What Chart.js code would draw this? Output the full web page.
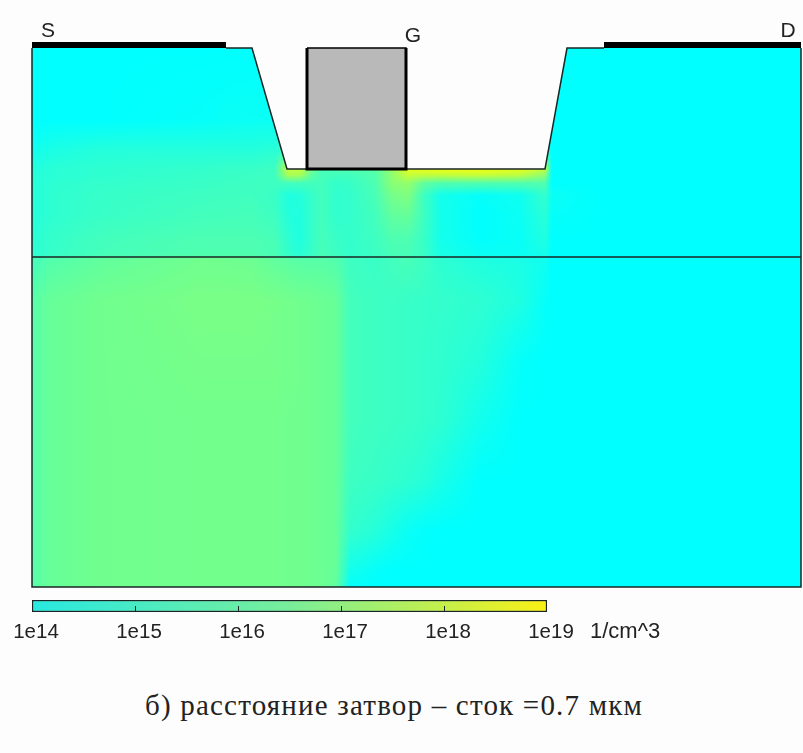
<!DOCTYPE html>
<html>
<head>
<meta charset="utf-8">
<script src="https://cdn.jsdelivr.net/npm/chart.js@4"></script>
<style>
  html, body { margin: 0; padding: 0; background: #fdfdfd; overflow: hidden; }
  canvas { position: absolute; left: 0; }
  #deviceChart { top: 0; }
  #scaleChart { top: 590px; }
  .note { position: absolute; white-space: nowrap; color: #222; }
  #unit { left: 590px; top: 618px; font: 22px "Liberation Sans", sans-serif; }
  #caption { left: 145px; top: 689px; font: 29px "Liberation Serif", serif; letter-spacing: 1.2px; }
</style>
</head>
<body>
<canvas id="deviceChart" width="803" height="590"></canvas>
<canvas id="scaleChart" width="803" height="60"></canvas>
<div class="note" id="unit">1/cm^3</div>
<div class="note" id="caption">б) расстояние затвор – сток =0.7 мкм</div>

<script>
// device coordinates, arbitrary units
const gridX = [0, 18, 68, 168, 218, 243, 256, 268, 280, 290, 304, 318, 343, 360, 376, 392, 408, 448, 488, 513, 520, 568, 769];
const gridY = [0, 72, 102, 121, 127, 135, 147, 167, 192, 207, 211, 252, 312, 372, 432, 482, 522, 539];

// log10 of the concentration, one row per gridY
const density = [
  [14, 14, 14, 14, 14, 14, 14, 14, 14, 14, 14, 14, 14, 14, 14, 14, 14, 14, 14, 14, 14, 14, 14],
  [14, 14, 14, 14.1, 14.2, 14.2, 14, 14, 14, 14, 14, 14, 14, 14, 14, 14, 14, 14, 14, 14, 14, 14, 14],
  [14.3, 14.5, 14.7, 14.7, 14.7, 14.8, 15, 15, 15, 15, 15, 15, 15, 15, 15, 15, 15, 15, 15, 15, 14, 14, 14],
  [14.6, 14.8, 14.9, 15, 15.1, 15.2, 17.8, 17.8, 16.2, 15.4, 15.5, 15.6, 15.7, 17, 18.4, 18.6, 18.7, 18.7, 18.5, 17.8, 14, 14, 14],
  [14.7, 14.8, 14.9, 15.05, 15.15, 15.2, 17.3, 17.3, 15.8, 15.35, 15.3, 15.3, 15.6, 16.8, 17.9, 17.8, 17.8, 17.9, 17.7, 16.8, 14, 14, 14],
  [14.7, 14.85, 15, 15.1, 15.2, 15.2, 15.3, 15.3, 15.3, 15.3, 15, 15.1, 15.5, 16.7, 16.9, 15.9, 15.6, 15.6, 15.6, 15.6, 14, 14, 14],
  [14.7, 14.9, 15.05, 15.2, 15.25, 15.1, 14.6, 14.7, 15.05, 15.3, 14.95, 15, 15.4, 16.3, 16.5, 15.2, 14.4, 14.1, 14.3, 15, 14.2, 14, 14],
  [14.7, 14.9, 15.1, 15.3, 15.35, 15.2, 14.7, 14.6, 15.05, 15.3, 14.95, 15, 15.3, 15.9, 16, 15.2, 14.4, 14, 14.2, 14.8, 14.1, 14, 14],
  [14.8, 15, 15.3, 15.5, 15.5, 15.4, 14.9, 14.6, 15.05, 15.35, 15.1, 15, 15.2, 15.5, 15.5, 15.1, 14.4, 14.05, 14.15, 14.6, 14, 14, 14],
  [14.85, 15.05, 15.35, 15.55, 15.55, 15.45, 15, 14.8, 15.1, 15.4, 15.2, 15, 15.15, 15.4, 15.4, 15.1, 14.5, 14.2, 14.2, 14.4, 14, 14, 14],
  [15.3, 15.6, 15.9, 16.2, 16.15, 15.9, 15.8, 15.7, 15.7, 15.7, 15.6, 15.2, 15.1, 15.3, 15.4, 15.2, 14.9, 14.6, 14.5, 14.3, 14, 14, 14],
  [15.7, 16, 16.2, 16.35, 16.35, 16.3, 16.25, 16.2, 16.15, 16.1, 16, 15.3, 15.2, 15.15, 15.1, 15.05, 15, 14.9, 14.6, 14.1, 14, 14, 14],
  [15.7, 16, 16.2, 16.3, 16.3, 16.3, 16.25, 16.2, 16.15, 16.1, 16, 15.3, 15.2, 15.15, 15.1, 15, 14.95, 14.7, 14.1, 14, 14, 14, 14],
  [15.7, 16, 16.2, 16.25, 16.25, 16.25, 16.2, 16.2, 16.15, 16.1, 16, 15.3, 15.2, 15.15, 15.1, 15, 14.9, 14.35, 14, 14, 14, 14, 14],
  [15.7, 16, 16.2, 16.25, 16.25, 16.25, 16.2, 16.2, 16.15, 16.1, 16, 15.2, 15.1, 15, 14.9, 14.75, 14.5, 14, 14, 14, 14, 14, 14],
  [15.7, 16, 16.2, 16.25, 16.25, 16.25, 16.2, 16.2, 16.15, 16.1, 16, 15, 14.75, 14.45, 14.2, 14.05, 14, 14, 14, 14, 14, 14, 14],
  [15.7, 16, 16.2, 16.25, 16.25, 16.25, 16.2, 16.2, 16.15, 16.1, 16, 14.4, 14.1, 14, 14, 14, 14, 14, 14, 14, 14, 14, 14],
  [15.7, 16, 16.2, 16.25, 16.25, 16.25, 16.2, 16.2, 16.15, 16.1, 15.9, 14.1, 14, 14, 14, 14, 14, 14, 14, 14, 14, 14, 14]
];

// device outline
const recessX = [194, 220, 255, 513, 535, 572];
const recessY = [0, 0, 121, 121, 0, 0];
const gateX = [275, 374, 374, 275, 275];
const gateY = [0, 0, 121, 121, 0];
const gateEdgeX = [275, 275, 374, 374];
const gateEdgeY = [0, 121, 121, 0];
const sourceX = [0, 194];
const drainX = [572, 769];
const contactY = [-3, -3];
const frameX = [0, 0, 769, 769];
const frameY = [0, 539, 539, 0];
const junctionX = [0, 769];
const junctionY = [209, 209];

const terminalNames = ['S', 'G', 'D'];
const terminalX = [16, 381, 756];
const terminalY = [-11, -6, -11];

// colour scale
const scaleMin = 14;
const scaleMax = 19;
const scaleTicks = [14, 15, 16, 17, 18, 19];
const scaleStops = ['#28e8e0', '#78ee9a', '#faf014'];

function densityColor(v) {
  const t = Math.min(1, Math.max(0, (v - scaleMin) / (scaleMax - scaleMin)));
  return [Math.round(255 * t), 255, Math.round(255 * (1 - t))];
}

function points(xs, ys) {
  return xs.map((x, i) => ({ x, y: ys[i] }));
}

function bracket(arr, v) {
  let i = 0;
  while (i < arr.length - 2 && arr[i + 1] < v) i++;
  return [i, Math.min(1, Math.max(0, (v - arr[i]) / (arr[i + 1] - arr[i])))];
}

const fieldPlugin = {
  id: 'field',
  beforeDatasetsDraw(chart) {
    const { ctx, scales: { x, y } } = chart;
    const left = Math.round(x.getPixelForValue(gridX[0]));
    const right = Math.round(x.getPixelForValue(gridX[gridX.length - 1]));
    const top = Math.round(y.getPixelForValue(gridY[0]));
    const bottom = Math.round(y.getPixelForValue(gridY[gridY.length - 1]));
    const w = right - left, h = bottom - top;
    const buf = document.createElement('canvas');
    buf.width = w;
    buf.height = h;
    const bctx = buf.getContext('2d');
    const img = bctx.createImageData(w, h);
    const cols = [];
    for (let px = 0; px < w; px++) cols.push(bracket(gridX, x.getValueForPixel(left + px + 0.5)));
    for (let py = 0; py < h; py++) {
      const [r, fy] = bracket(gridY, y.getValueForPixel(top + py + 0.5));
      for (let px = 0; px < w; px++) {
        const [c, fx] = cols[px];
        const a = density[r][c] * (1 - fx) + density[r][c + 1] * fx;
        const b = density[r + 1][c] * (1 - fx) + density[r + 1][c + 1] * fx;
        const rgb = densityColor(a * (1 - fy) + b * fy);
        const o = (py * w + px) * 4;
        img.data[o] = rgb[0];
        img.data[o + 1] = rgb[1];
        img.data[o + 2] = rgb[2];
        img.data[o + 3] = 255;
      }
    }
    bctx.putImageData(img, 0, 0);
    ctx.drawImage(buf, left, top);
  },
  afterDatasetsDraw(chart) {
    const { ctx, scales: { x, y } } = chart;
    ctx.save();
    ctx.fillStyle = '#222';
    ctx.font = '21px "Liberation Sans", sans-serif';
    ctx.textAlign = 'center';
    ctx.textBaseline = 'alphabetic';
    terminalNames.forEach((name, i) => {
      ctx.fillText(name, x.getPixelForValue(terminalX[i]), y.getPixelForValue(terminalY[i]));
    });
    ctx.restore();
  }
};

function outline(xs, ys, width, extra) {
  return Object.assign({
    data: points(xs, ys),
    showLine: true,
    pointRadius: 0,
    borderColor: '#1a2626',
    borderWidth: width,
    fill: false,
    clip: false
  }, extra);
}

new Chart(document.getElementById('deviceChart').getContext('2d'), {
  type: 'scatter',
  data: {
    datasets: [
      outline(sourceX, contactY, 6, { borderColor: '#000' }),
      outline(drainX, contactY, 6, { borderColor: '#000' }),
      outline(gateEdgeX, gateEdgeY, 3, { borderColor: '#000' }),
      outline(gateX, gateY, 1.5, { borderColor: '#000', backgroundColor: '#b9b9b9', fill: 'shape' }),
      outline(recessX, recessY, 1.5, { backgroundColor: '#fdfdfd', fill: { value: 0 } }),
      outline(junctionX, junctionY, 1.5),
      outline(frameX, frameY, 1.5)
    ]
  },
  options: {
    responsive: false,
    animation: false,
    layout: { padding: { left: 32, right: 2, top: 0, bottom: 3 } },
    plugins: { legend: { display: false }, tooltip: { enabled: false } },
    scales: {
      x: { type: 'linear', display: false, min: 0, max: 769 },
      y: { type: 'linear', display: false, min: -48, max: 539, reverse: true }
    }
  },
  plugins: [fieldPlugin]
});

const tickMarkPlugin = {
  id: 'tickMarks',
  afterDatasetsDraw(chart) {
    const { ctx, chartArea, scales: { x } } = chart;
    ctx.save();
    ctx.strokeStyle = '#1a2626';
    ctx.lineWidth = 1;
    scaleTicks.slice(1, -1).forEach(v => {
      const px = Math.round(x.getPixelForValue(v)) + 0.5;
      ctx.beginPath();
      ctx.moveTo(px, chartArea.bottom);
      ctx.lineTo(px, chartArea.bottom - 6);
      ctx.stroke();
    });
    ctx.restore();
  }
};

new Chart(document.getElementById('scaleChart').getContext('2d'), {
  type: 'bar',
  data: {
    labels: ['n'],
    datasets: [{
      data: [[scaleMin, scaleMax]],
      borderColor: '#1a2626',
      borderWidth: 1.5,
      borderSkipped: false,
      categoryPercentage: 1,
      barPercentage: 1,
      backgroundColor(c) {
        const area = c.chart.chartArea;
        if (!area) return scaleStops[0];
        const g = c.chart.ctx.createLinearGradient(area.left, 0, area.right, 0);
        scaleStops.forEach((s, i) => g.addColorStop(i / (scaleStops.length - 1), s));
        return g;
      }
    }]
  },
  options: {
    indexAxis: 'y',
    responsive: false,
    animation: false,
    layout: { padding: { left: 32, right: 256, top: 10, bottom: 0 } },
    plugins: { legend: { display: false }, tooltip: { enabled: false } },
    scales: {
      x: {
        type: 'linear',
        min: scaleMin,
        max: scaleMax,
        // the default fit caps an axis at half the chart height
        afterFit(scale) { scale.height = 38; },
        border: { display: false },
        grid: { display: false },
        ticks: {
          autoSkip: false,
          maxRotation: 0,
          stepSize: 1,
          labelOffset: 4,
          padding: 0,
          color: '#222',
          font: { family: '"Liberation Sans", sans-serif', size: 20.5 },
          callback: v => '1e' + v
        }
      },
      y: { display: false }
    }
  },
  plugins: [tickMarkPlugin]
});
</script>
</body>
</html>
